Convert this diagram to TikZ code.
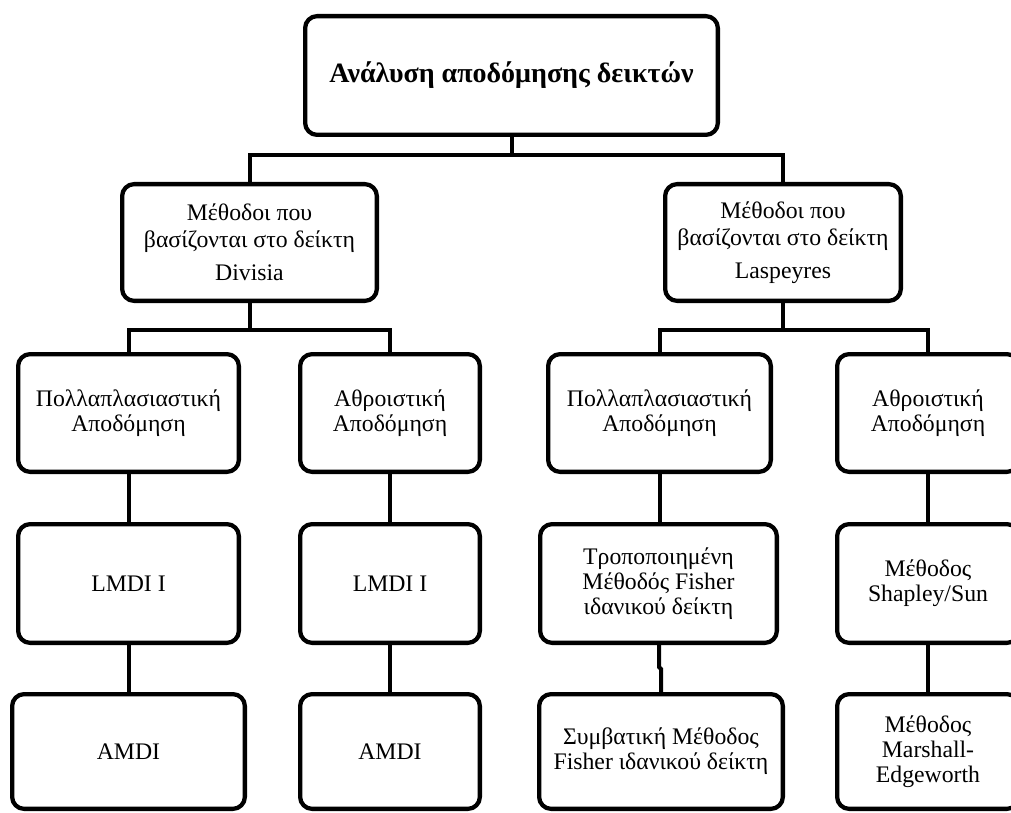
\documentclass[tikz,border=0pt]{standalone}
\usepackage{fontspec}
\setmainfont{Liberation Serif}
\begin{document}
\begin{tikzpicture}[x=0.75pt,y=-0.75pt,
  box/.style={draw, line width=3.2pt, rounded corners=9pt, align=center, fill=white,
    font=\fontsize{17.8}{18.75}\selectfont, inner sep=0pt},
  sz/.style 2 args={minimum width={#1*0.75pt-3.2pt}, minimum height={#2*0.75pt-3.2pt}},
  titlefont/.style={font=\fontsize{21}{24}\selectfont\bfseries},
  conn/.style={line width=3pt}]
\clip (0,0) rectangle (1011,813);
\useasboundingbox (0,0) rectangle (1011,813);
% level 0
\node[box, sz={417}{123}, titlefont] (top) at (511.5,75.5) {Ανάλυση αποδόμησης δεικτών};
% level 1
\node[box, sz={259}{121}] (l1l) at (249.5,242.5) {Μέθοδοι που\\[1.5pt]βασίζονται στο δείκτη\\[6pt]Divisia};
\node[box, sz={240}{121}] (l1r) at (783,242.5) {Μέθοδοι που\\[1.5pt]βασίζονται στο δείκτη\\[6pt]Laspeyres};
% level 2
\node[box, sz={225}{122}] (l2a) at (128.5,413) {Πολλαπλασιαστική\\Αποδόμηση};
\node[box, sz={184}{122}] (l2b) at (390,413) {Αθροιστική\\Αποδόμηση};
\node[box, sz={227}{122}] (l2c) at (659.5,413) {Πολλαπλασιαστική\\Αποδόμηση};
\node[box, sz={186}{122}] (l2d) at (928,413) {Αθροιστική\\Αποδόμηση};
% level 3
\node[box, sz={225}{123}] (l3a) at (128.5,583.5) {LMDI I};
\node[box, sz={184}{123}] (l3b) at (390,583.5) {LMDI I};
\node[box, sz={241}{123}] (l3c) at (658.5,583.5) {Τροποποιημένη\\Μέθοδός Fisher\\ιδανικού δείκτη};
\node[box, sz={186}{123}] (l3d) at (928,583.5) {Μέθοδος\\Shapley/Sun};
% level 4
\node[box, sz={237}{119}] (l4a) at (128.5,751.5) {AMDI};
\node[box, sz={184}{119}] (l4b) at (390,751.5) {AMDI};
\node[box, sz={248}{119}] (l4c) at (661,751.5) {Συμβατική Μέθοδος\\Fisher ιδανικού δείκτη};
\node[box, sz={186}{119}] (l4d) at (928,751.5) {Μέθοδος\\Marshall-\\Edgeworth};
% connectors
\coordinate (j0) at (511.5,155);
\coordinate (j1) at (249.5,330);
\coordinate (j2) at (783,330);
\coordinate (k1) at (659,667);
\coordinate (k2) at (661,669);
\draw[conn] (top.south) -- (j0) -| (l1l.north);
\draw[conn] (j0) -| (l1r.north);
\draw[conn] (l1l.south) -- (j1) -| (l2a.north);
\draw[conn] (j1) -| (l2b.north);
\draw[conn] (l1r.south) -- (j2) -| (l2c.north);
\draw[conn] (j2) -| (l2d.north);
\draw[conn] (l2a.south) -- (l3a.north);
\draw[conn] (l2b.south) -- (l3b.north);
\draw[conn] (l2c.south) -- (l2c.south |- l3c.north);
\draw[conn] (l2d.south) -- (l3d.north);
\draw[conn] (l3a.south) -- (l4a.north);
\draw[conn] (l3b.south) -- (l4b.north);
\draw[conn] (l3c.south -| k1) -- (k1) -- (k2) -- (l4c.north);
\draw[conn] (l3d.south) -- (l4d.north);
\end{tikzpicture}
\end{document}
